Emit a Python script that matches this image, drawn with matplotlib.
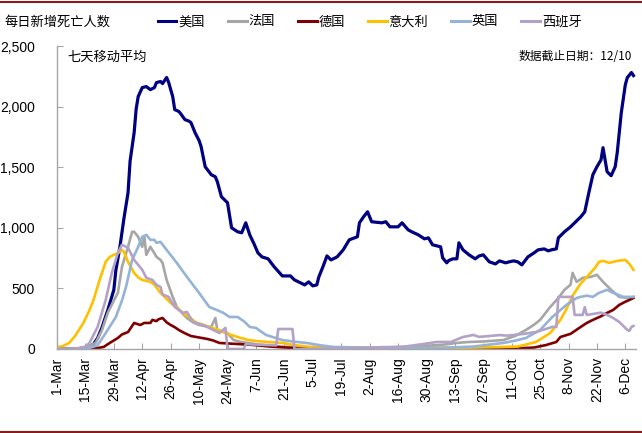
import matplotlib
matplotlib.use("Agg")
import matplotlib.pyplot as plt
import pandas as pd
from matplotlib.lines import Line2D

# ---------------- data (days since 1-Mar-2020, 7-day avg deaths) ----------------
start_date = "2020-03-01"

us_days = [0, 10, 15, 18, 20, 22, 25, 28, 29, 31, 33, 35, 36, 38, 39, 40, 42, 44, 46, 48, 49, 51, 52,
           53, 54, 55, 57, 58, 60, 61, 63, 65, 66, 68, 70, 71, 73, 75, 76, 78, 79, 81, 84, 86, 89,
           91, 93, 95, 97, 99, 101, 104, 107, 111, 115, 117, 120, 122, 124, 126, 128, 129, 131,
           133, 135, 138, 141, 144, 148, 149, 151, 153, 155, 160, 162, 164, 168, 170, 173, 175,
           178, 181, 183, 185, 189, 190, 192, 193, 195, 197, 198, 200, 203, 206, 208, 210, 213,
           216, 218, 221, 223, 225, 227, 229, 232, 235, 237, 240, 242, 244, 246, 247, 250, 253,
           255, 258, 260, 262, 264, 266, 268, 269, 271, 273, 275, 276, 278, 280, 281, 283, 284]
us_vals = [0, 2, 10, 40, 90, 170, 320, 488, 650, 843, 1080, 1290, 1550, 1785, 1980, 2083, 2157,
           2165, 2140, 2157, 2198, 2207, 2190, 2215, 2240, 2200, 2083, 1975, 1960, 1940, 1893,
           1880, 1868, 1785, 1720, 1670, 1504, 1460, 1438, 1421, 1380, 1256, 1207, 1000, 967,
           959, 1041, 940, 870, 793, 760, 744, 678, 603, 603, 570, 545, 529, 554, 521, 529, 595,
           678, 768, 735, 760, 818, 901, 926, 1041, 1090, 1132, 1050, 1041, 1050, 1008, 1008,
           1041, 983, 965, 942, 909, 917, 860, 843, 752, 711, 730, 744, 744, 876, 818, 777, 744,
           768, 777, 719, 702, 727, 711, 720, 727, 719, 694, 760, 793, 818, 826, 810, 820, 826,
           917, 967, 1008, 1041, 1090, 1132, 1289, 1438, 1504, 1560, 1661, 1463, 1430, 1504,
           1620, 1950, 2182, 2240, 2281, 2256]

fr_days = [0, 10, 15, 19, 22, 25, 28, 30, 32, 35, 37, 38, 40, 42, 43, 44, 46, 48, 49, 51, 52, 54,
           57, 59, 62, 64, 67, 70, 74, 76, 78, 79, 82, 84, 87, 90, 94, 100, 110, 120, 140, 160,
           175, 190, 197, 203, 210, 220, 226, 231, 235, 238, 243, 247, 250, 253, 254, 256, 259,
           263, 266, 269, 273, 277, 281, 284]
fr_vals = [0, 3, 15, 50, 150, 298, 400, 463, 678, 843, 967, 967, 926, 843, 930, 777, 843, 790,
           760, 735, 711, 570, 430, 347, 290, 256, 220, 198, 185, 182, 256, 157, 140, 132, 74, 60,
           50, 35, 20, 15, 10, 12, 20, 35, 50, 58, 62, 74, 110, 157, 200, 240, 347, 421, 488, 530,
           628, 554, 587, 595, 612, 554, 488, 430, 421, 430]

de_days = [0, 15, 20, 23, 26, 30, 32, 35, 37, 38, 41, 43, 46, 47, 49, 50, 52, 54, 56, 58, 60, 63,
           66, 70, 74, 77, 80, 85, 89, 97, 105, 115, 130, 160, 200, 220, 230, 235, 241, 246, 248,
           253, 258, 261, 264, 268, 271, 274, 277, 280, 282, 284]
de_vals = [0, 2, 8, 17, 50, 91, 120, 140, 190, 215, 198, 215, 215, 240, 230, 245, 256, 220, 198,
           180, 157, 130, 107, 95, 83, 70, 50, 45, 41, 33, 20, 10, 5, 5, 8, 10, 8, 12, 33, 58, 99,
           125, 182, 215, 240, 270, 298, 322, 364, 390, 405, 421]

it_days = [0, 3, 6, 9, 13, 16, 18, 21, 24, 26, 28, 30, 32, 33, 35, 38, 40, 42, 46, 48, 51, 53, 56,
           59, 62, 66, 69, 72, 75, 79, 82, 86, 89, 94, 98, 104, 111, 118, 125, 140, 160, 180, 200,
           215, 227, 236, 243, 248, 251, 254, 258, 262, 265, 267, 269, 272, 276, 280, 282, 284]
it_vals = [15, 25, 50, 110, 215, 320, 405, 570, 720, 760, 777, 790, 818, 800, 719, 628, 590, 570,
           554, 530, 463, 430, 380, 340, 298, 250, 215, 200, 182, 160, 140, 115, 99, 75, 66, 58,
           50, 30, 17, 10, 6, 8, 10, 15, 20, 58, 132, 240, 330, 440, 540, 612, 669, 719, 727, 711,
           727, 735, 702, 653]

uk_days = [0, 15, 20, 24, 29, 32, 34, 37, 40, 42, 44, 46, 48, 49, 51, 54, 59, 64, 70, 75, 79, 82,
           85, 89, 92, 95, 98, 103, 111, 117, 123, 130, 136, 150, 170, 190, 205, 215, 220, 226,
           231, 238, 244, 251, 256, 258, 261, 264, 267, 271, 274, 279, 284]
uk_vals = [0, 5, 30, 132, 264, 400, 512, 735, 843, 926, 942, 901, 900, 876, 884, 818, 711, 595,
           463, 347, 320, 298, 264, 264, 230, 182, 174, 116, 74, 60, 50, 30, 17, 12, 10, 10, 20,
           40, 50, 70, 91, 157, 264, 364, 421, 430, 440, 430, 463, 488, 463, 430, 430]

es_days = [0, 10, 14, 16, 20, 24, 27, 30, 32, 35, 38, 42, 44, 47, 49, 51, 52, 55, 58, 62, 64, 67,
           72, 77, 80, 83, 84, 92, 93, 108, 109, 116, 117, 150, 160, 170, 180, 187, 194, 200, 205,
           208, 215, 218, 222, 230, 236, 244, 246, 247, 254, 255, 259, 260, 261, 268, 271, 274,
           277, 281, 282, 283, 284]
es_vals = [0, 5, 20, 50, 182, 405, 628, 793, 860, 835, 735, 653, 587, 570, 529, 512, 450, 430,
           347, 298, 306, 223, 198, 157, 132, 174, 0, 0, 40, 30, 165, 165, 0, 8, 15, 17, 40, 58,
           58, 99, 116, 100, 110, 115, 110, 125, 140, 182, 182, 430, 430, 281, 281, 345, 281, 300,
           281, 256, 223, 157, 150, 182, 190]

series_names = ["美国", "法国", "德国", "意大利", "英国", "西班牙"]
series_colors = ["#000080", "#A6A6A6", "#7F0000", "#FFC000", "#95B3D7", "#B3A2C7"]
series_widths = [2.3, 1.9, 1.9, 1.9, 1.9, 1.9]

tick_labels = ["1-Mar", "15-Mar", "29-Mar", "12-Apr", "26-Apr", "10-May", "24-May", "7-Jun",
               "21-Jun", "5-Jul", "19-Jul", "2-Aug", "16-Aug", "30-Aug", "13-Sep", "27-Sep",
               "11-Oct", "25-Oct", "8-Nov", "22-Nov", "6-Dec"]
y_ticks = [0, 500, 1000, 1500, 2000, 2500]

# ---------------- figure ----------------
CJK = ["Noto Sans CJK SC", "DejaVu Sans"]
LAT = "Liberation Sans"

W, H = 642, 433
fig = plt.figure(figsize=(W / 100, H / 100), dpi=100)
ax = fig.add_axes([57 / W, 84 / H, (635.5 - 57) / W, (349 - 46) / H])

base = pd.Timestamp(start_date)
def to_dates(days):
    return [base + pd.Timedelta(days=d) for d in days]

all_days = [us_days, fr_days, de_days, it_days, uk_days, es_days]
all_vals = [us_vals, fr_vals, de_vals, it_vals, uk_vals, es_vals]
handles = []
for d, v, c, lw, n in zip(all_days, all_vals, series_colors, series_widths, series_names):
    h, = ax.plot(to_dates(d), v, color=c, lw=lw, solid_joinstyle="round", label=n)
    handles.append(h)

ax.set_xlim(base, base + pd.Timedelta(days=285))
ax.set_ylim(0, 2500)

tick_dates = [base + pd.Timedelta(days=14 * i) for i in range(len(tick_labels))]
ax.set_xticks(tick_dates)
ax.set_xticklabels(tick_labels, rotation=90, fontfamily=LAT, fontsize=10)
ax.set_yticks(y_ticks)
ax.set_yticklabels([f"{t:,}" for t in y_ticks], fontfamily=LAT, fontsize=10)

for s in ["top", "right"]:
    ax.spines[s].set_visible(False)
for s in ["left", "bottom"]:
    ax.spines[s].set_color("#A6A6A6")
    ax.spines[s].set_linewidth(1.0)
ax.tick_params(axis="x", direction="in", length=4, color="#A6A6A6", pad=6)
ax.tick_params(axis="y", direction="in", length=4, color="#A6A6A6", pad=16)

# title and legend
fig.text(5 / W, 1 - 22 / H, "每日新增死亡人数", family=CJK, fontsize=9.5, va="center", ha="left")
leg = fig.legend(handles=handles, labels=series_names, ncol=6, loc="center left",
                 bbox_to_anchor=(158 / W, 1 - 22 / H), frameon=False,
                 prop={"family": CJK, "size": 9.5}, handlelength=1.4,
                 handletextpad=0.15, columnspacing=1.75, borderaxespad=0, borderpad=0)
for l in leg.get_lines():
    l.set_linewidth(2.2)

fig.text(67 / W, 1 - 57 / H, "七天移动平均", family=CJK, fontsize=9.5, va="center", ha="left")
fig.text(632 / W, 1 - 57 / H, "数据截止日期：12/10", family=CJK, fontsize=8.5, va="center", ha="right")

# top and bottom rules
for yy in [1 - 2 / H, 1.2 / H]:
    fig.add_artist(Line2D([0, 1], [yy, yy], transform=fig.transFigure, color="#8B1A1A", lw=1.5))

fig.savefig("out.png", dpi=100)
